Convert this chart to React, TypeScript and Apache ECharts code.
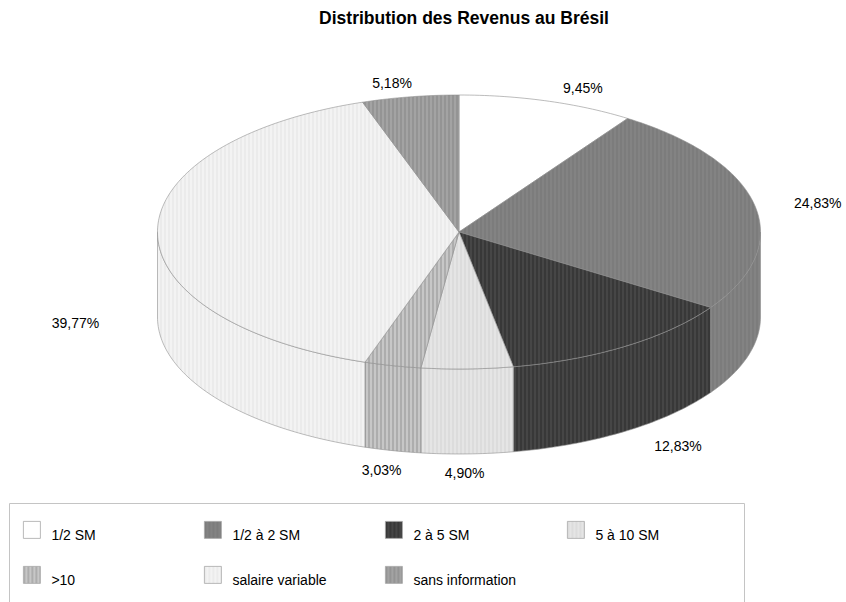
import React, { useEffect, useRef } from "react";
import * as echarts from "echarts";

// ---- data ----
const categories = [
  "1/2 SM",
  "1/2 à 2 SM",
  "2 à 5 SM",
  "5 à 10 SM",
  ">10",
  "salaire variable",
  "sans information",
];
const shares = [9.45, 24.83, 12.83, 4.9, 3.03, 39.77, 5.18];
const titleText = "Distribution des Revenus au Brésil";

// ---- styles (two-tone vertical stripes per slice) ----
const stripeColors: [string, string][] = [
  ["#ffffff", "#ffffff"],
  ["#7c7c7c", "#838383"],
  ["#383838", "#464646"],
  ["#dcdcdc", "#e5e5e5"],
  ["#adadad", "#c7c7c7"],
  ["#ebebeb", "#f3f3f3"],
  ["#949494", "#a3a3a3"],
];
// small nudges applied to the computed label anchors
const labelNudge: [number, number][] = [
  [21, 16],
  [14, 4],
  [25, 4],
  [-4, -11],
  [0, -8],
  [-32, 90],
  [-10, 16],
];
const legendCols = [23, 204, 385, 567];
const legendRows = [521, 566];

const FONT = "Liberation Sans, Arial, Helvetica, sans-serif";
const CX = 459;
const CY = 232;
const RX = 301.5;
const RY = 137;
const DEPTH = 85;
const EDGE = "#8e8e8e";

function stripe(c1: string, c2: string): any {
  const cv = document.createElement("canvas");
  cv.width = 4;
  cv.height = 4;
  const ctx = cv.getContext("2d")!;
  ctx.fillStyle = c1;
  ctx.fillRect(0, 0, 2, 4);
  ctx.fillStyle = c2;
  ctx.fillRect(2, 0, 2, 4);
  return { image: cv, repeat: "repeat", imageWidth: 4, imageHeight: 4 };
}

function pt(t: number, off: number): number[] {
  return [CX + RX * Math.sin(t), CY - RY * Math.cos(t) + off];
}
function arc(a0: number, a1: number, off: number): number[][] {
  const n = Math.max(2, Math.ceil((a1 - a0) / (Math.PI / 180)));
  const out: number[][] = [];
  for (let k = 0; k <= n; k++) out.push(pt(a0 + ((a1 - a0) * k) / n, off));
  return out;
}
function fmt(v: number): string {
  return v.toFixed(2).replace(".", ",") + "%";
}

export default function App() {
  const ref = useRef<HTMLDivElement>(null);
  useEffect(() => {
    if (!ref.current) return;
    const chart = echarts.init(ref.current, null, { renderer: "svg" });
    const total = shares.reduce((a, b) => a + b, 0);
    const starts: number[] = [];
    let acc = 0;
    shares.forEach((v) => {
      starts.push((acc / total) * Math.PI * 2);
      acc += v;
    });
    const fills = stripeColors.map(([a, b]) => stripe(a, b));

    const series = categories.map((name, i) => ({
      type: "custom",
      name,
      coordinateSystem: "none",
      silent: true,
      itemStyle: { color: fills[i] },
      data: [[shares[i]]],
      renderItem: (_params: any, api: any) => {
        const v = api.value(0);
        const a0 = starts[i];
        const a1 = a0 + (v / total) * Math.PI * 2;
        const style = { fill: fills[i], stroke: EDGE, lineWidth: 0.6 };
        const children: any[] = [];
        const lo = Math.max(a0, Math.PI / 2);
        const hi = Math.min(a1, (Math.PI * 3) / 2);
        if (hi > lo) {
          const side = arc(lo, hi, 0).concat(arc(lo, hi, DEPTH).reverse());
          children.push({ type: "polygon", shape: { points: side }, style });
        }
        const top = [[CX, CY]].concat(arc(a0, a1, 0));
        children.push({ type: "polygon", shape: { points: top }, style });
        const mid = (a0 + a1) / 2;
        const c = Math.cos(mid);
        const lx = CX + (RX + 50) * Math.sin(mid) + labelNudge[i][0];
        const ly =
          CY - (RY + 30) * c + (c < 0 ? -c * DEPTH : 0) + labelNudge[i][1];
        children.push({
          type: "text",
          style: {
            text: fmt(v),
            x: lx,
            y: ly,
            align: "center",
            verticalAlign: "middle",
            fill: "#000",
            font: `14px ${FONT}`,
          },
        });
        return { type: "group", children };
      },
    }));

    // square in the top 17px of a 17x27 icon box, so the text sits lower
    const legend = categories.map((name, i) => ({
      data: [name],
      left: legendCols[i % 4],
      top: legendRows[Math.floor(i / 4)],
      icon: "path://M0,0H17V17H0Z M0,27",
      itemWidth: 17,
      itemHeight: 27,
      itemGap: 0,
      padding: 0,
      selectedMode: false,
      itemStyle: { borderColor: "#a8a8a8", borderWidth: 0.8 },
      textStyle: {
        fontSize: 14,
        fontFamily: FONT,
        color: "#000",
        padding: [0, 0, 0, 6],
      },
    }));

    chart.setOption({
      animation: false,
      backgroundColor: "#ffffff",
      title: {
        text: titleText,
        left: CX,
        textAlign: "center",
        top: 4,
        textStyle: {
          fontSize: 17.5,
          fontWeight: "bold",
          fontFamily: FONT,
          color: "#000",
        },
      },
      legend,
      graphic: [
        {
          type: "rect",
          shape: { x: 9.5, y: 503.5, width: 735, height: 130 },
          style: { fill: "none", stroke: "#c4c4c4", lineWidth: 1 },
          silent: true,
        },
      ],
      series,
    } as any);
    return () => chart.dispose();
  }, []);
  return (
    <div
      ref={ref}
      style={{ position: "fixed", left: 0, top: 0, width: 846, height: 602 }}
    />
  );
}
